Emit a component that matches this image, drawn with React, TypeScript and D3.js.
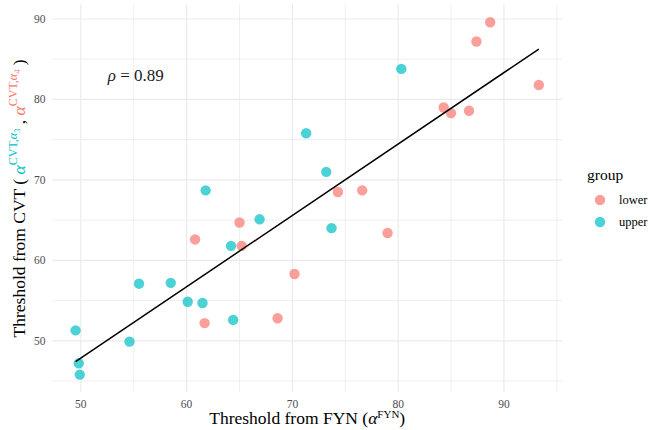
import React from "react";
import * as d3 from "d3";

const groups = ["lower", "upper"];
const colors = ["#F8766D", "#00BFC4"];

const lowerX = [88.7, 87.4, 93.3, 84.3, 85.0, 86.7, 74.3, 76.6, 79.0, 70.2, 68.6, 61.7, 65.0, 60.8, 65.2];
const lowerY = [89.6, 87.2, 81.8, 79.0, 78.3, 78.6, 68.5, 68.7, 63.4, 58.3, 52.8, 52.2, 64.7, 62.6, 61.8];
const upperX = [80.3, 71.3, 73.2, 61.8, 66.9, 73.7, 64.2, 55.5, 58.5, 60.1, 61.5, 64.4, 49.5, 54.6, 49.8, 49.9];
const upperY = [83.8, 75.8, 71.0, 68.7, 65.1, 64.0, 61.8, 57.1, 57.2, 54.85, 54.7, 52.6, 51.3, 49.9, 47.2, 45.8];

const xTicks = [50, 60, 70, 80, 90];
const yTicks = [50, 60, 70, 80, 90];
const xMinor = [55, 65, 75, 85, 95];
const yMinor = [45, 55, 65, 75, 85];
const rhoLabel = "0.89";
const rhoPos = [55, 83];

const W = 657;
const H = 430;
const FONT = "Liberation Serif, Times New Roman, serif";

export default function App() {
  const pts = [
    ...lowerX.map((x, i) => ({ x, y: lowerY[i], g: 0 })),
    ...upperX.map((x, i) => ({ x, y: upperY[i], g: 1 })),
  ];
  const allX = pts.map((p) => p.x);
  const allY = pts.map((p) => p.y);
  const [x0, x1] = d3.extent(allX) as [number, number];
  const [y0, y1] = d3.extent(allY) as [number, number];
  const ex = (x1 - x0) * 0.05;
  const ey = (y1 - y0) * 0.05;

  const left = 52.4, right = 562, top = 4.6, bottom = 392.2;
  const xs = d3.scaleLinear().domain([x0 - ex, x1 + ex]).range([left, right]);
  const ys = d3.scaleLinear().domain([y0 - ey, y1 + ey]).range([bottom, top]);

  // OLS fit
  const mx = d3.mean(allX)!;
  const my = d3.mean(allY)!;
  const sxy = d3.sum(pts, (p) => (p.x - mx) * (p.y - my));
  const sxx = d3.sum(pts, (p) => (p.x - mx) ** 2);
  const b = sxy / sxx;
  const a = my - b * mx;
  const line = d3.line<number>().x((x) => xs(x)).y((x) => ys(a + b * x));

  const gridCol = "#EBEBEB";
  const tickCol = "#4D4D4D";

  return (
    <svg width={W} height={H} style={{ position: "absolute", left: 0, top: 0, background: "#fff" }}>
      <rect width={W} height={H} fill="#fff" />
      {xMinor.map((t) => (
        <line key={"xm" + t} x1={xs(t)} x2={xs(t)} y1={top} y2={bottom} stroke={gridCol} strokeWidth={0.8} />
      ))}
      {yMinor.map((t) => (
        <line key={"ym" + t} x1={left} x2={right} y1={ys(t)} y2={ys(t)} stroke={gridCol} strokeWidth={0.8} />
      ))}
      {xTicks.map((t) => (
        <line key={"xM" + t} x1={xs(t)} x2={xs(t)} y1={top} y2={bottom} stroke={gridCol} strokeWidth={1.2} />
      ))}
      {yTicks.map((t) => (
        <line key={"yM" + t} x1={left} x2={right} y1={ys(t)} y2={ys(t)} stroke={gridCol} strokeWidth={1.2} />
      ))}
      {pts.map((p, i) => (
        <circle key={i} cx={xs(p.x)} cy={ys(p.y)} r={5.2} fill={colors[p.g]} fillOpacity={0.7} />
      ))}
      <path d={line([x0, x1]) || ""} stroke="#000" strokeWidth={1.5} fill="none" />
      <text x={xs(rhoPos[0]) + 2} y={ys(rhoPos[1])} dy="0.35em" textAnchor="middle" fontFamily={FONT} fontSize={17} fill="#1a1a1a">
        <tspan fontStyle="italic">ρ</tspan>
        <tspan> = {rhoLabel}</tspan>
      </text>
      {xTicks.map((t) => (
        <text key={"xt" + t} x={xs(t)} y={407.5} textAnchor="middle" fontFamily={FONT} fontSize={11.5} fill={tickCol}>
          {t}
        </text>
      ))}
      {yTicks.map((t) => (
        <text key={"yt" + t} x={45.5} y={ys(t)} dy="0.35em" textAnchor="end" fontFamily={FONT} fontSize={11.5} fill={tickCol}>
          {t}
        </text>
      ))}
      <text x={(left + right) / 2} y={424} textAnchor="middle" fontFamily={FONT} fontSize={17.5} fill="#000">
        <tspan>Threshold from FYN (</tspan>
        <tspan fontStyle="italic">α</tspan>
        <tspan fontSize={11} dy={-6}>FYN</tspan>
        <tspan dy={6}>)</tspan>
      </text>
      <text
        transform={`translate(25,${(top + bottom) / 2}) rotate(-90)`}
        textAnchor="middle"
        fontFamily={FONT}
        fontSize={17.5}
        fill="#000"
      >
        <tspan>Threshold from CVT ( </tspan>
        <tspan fill={colors[1]} fontStyle="italic">α</tspan>
        <tspan fill={colors[1]} fontSize={12} dy={-8}>CVT,</tspan>
        <tspan fill={colors[1]} fontSize={12} fontStyle="italic">α</tspan>
        <tspan fill={colors[1]} fontSize={8.5} dy={2.5}>3</tspan>
        <tspan dy={5.5}> , </tspan>
        <tspan fill={colors[0]} fontStyle="italic">α</tspan>
        <tspan fill={colors[0]} fontSize={12} dy={-8}>CVT,</tspan>
        <tspan fill={colors[0]} fontSize={12} fontStyle="italic">α</tspan>
        <tspan fill={colors[0]} fontSize={8.5} dy={2.5}>4</tspan>
        <tspan dy={5.5}> )</tspan>
      </text>
      <text x={587} y={180} fontFamily={FONT} fontSize={15.5} fill="#000">group</text>
      {groups.map((g, i) => (
        <g key={g}>
          <circle cx={600} cy={200 + i * 22} r={5.2} fill={colors[i]} fillOpacity={0.7} />
          <text x={619} y={200 + i * 22} dy="0.35em" fontFamily={FONT} fontSize={12.5} fill="#000">{g}</text>
        </g>
      ))}
    </svg>
  );
}
